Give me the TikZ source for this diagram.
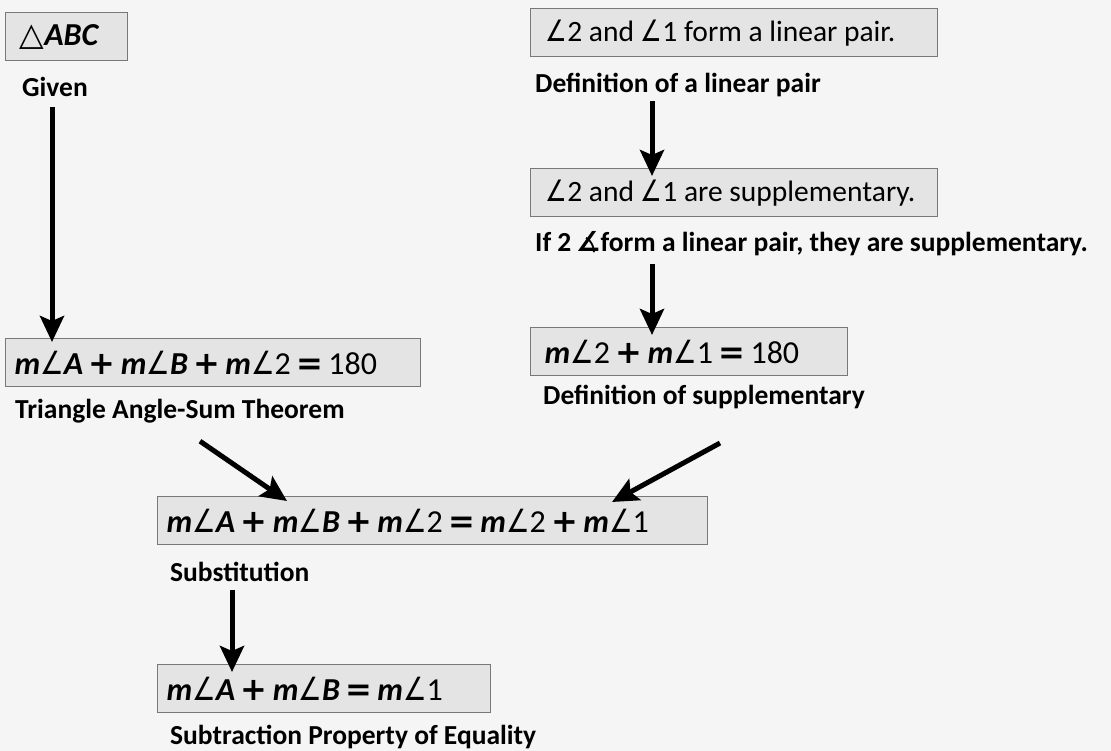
\documentclass[tikz,border=0pt]{standalone}
\usepackage{fontspec}
\usepackage{graphicx}
\setmainfont{Carlito}
\newfontfamily\symfont{DejaVu Sans}
\usetikzlibrary{arrows.meta,positioning}
\definecolor{paper}{RGB}{245,245,245}
\definecolor{boxfill}{RGB}{228,228,228}
\definecolor{boxline}{RGB}{120,120,120}
\newcommand{\ang}{\scalebox{0.82}[1]{\symfont\char"2220}}
\newcommand{\angs}{{\symfont\bfseries\char"2221}}
\newcommand{\tri}{{\symfont\char"25B3}}
\newcommand{\mv}[1]{\textit{\textbf{#1}}}
\newcommand{\pl}{\,{\symfont\bfseries +}\,}
\newcommand{\eq}{\,{\symfont\bfseries =}\,}

\begin{document}
\begin{tikzpicture}[x=1pt,y=-1pt,
    stmt/.style={draw=boxline,fill=boxfill,line width=1.3pt,anchor=north west,
      align=flush left,inner xsep=9pt,inner ysep=0pt,minimum height=48pt,
      font=\fontsize{32}{34}\selectfont},
    wordy/.style={inner xsep=15pt,font=\fontsize{29.5}{32}\selectfont},
    reason/.style={anchor=west,inner sep=0pt,font=\bfseries\fontsize{27.5}{30}\selectfont},
    flow/.style={line width=5pt,-{Stealth[length=26pt,width=24pt,inset=5pt]}}]
  \fill[paper] (0,0) rectangle (1111,751);
  \useasboundingbox (0,0) rectangle (1111,751);

  % left column
  \node[stmt,inner xsep=14pt,text width=94pt] (abc) at (5,12) {\mbox{\tri\mv{ABC}}};
  \node[reason] (given) at (22,87) {Given};
  \node[stmt,text width=397pt] (angsum) at (5,338)
    {\mbox{\mv{m}\ang\mv{A}\pl\mv{m}\ang\mv{B}\pl\mv{m}\ang2\eq180}};
  \node[reason] (tast) at (15,411) {Triangle Angle-Sum Theorem};

  % right column
  \node[stmt,wordy,text width=377pt] (lin) at (530,8) {\mbox{\ang2 and \ang1 form a linear pair.}};
  \node[reason] (deflin) at (535,85) {Definition of a linear pair};
  \node[stmt,wordy,text width=377pt] (supp) at (530,168) {\mbox{\ang2 and \ang1 are supplementary.}};
  \node[reason] (ifsupp) at (535,244) {If 2\,\angs form a linear pair, they are supplementary.};
  \node[stmt,inner xsep=14pt,text width=289pt] (sum) at (530,327) {\mbox{\mv{m}\ang2\pl\mv{m}\ang1\eq180}};
  \node[reason] (defsupp) at (543,397) {Definition of supplementary};

  % bottom
  \node[stmt,text width=532pt] (subst) at (157,496)
    {\mbox{\mv{m}\ang\mv{A}\pl\mv{m}\ang\mv{B}\pl\mv{m}\ang2\eq\mv{m}\ang2\pl\mv{m}\ang1}};
  \node[reason] (substr) at (170,572) {Substitution};
  \node[stmt,text width=315pt] (diff) at (157,664)
    {\mbox{\mv{m}\ang\mv{A}\pl\mv{m}\ang\mv{B}\eq\mv{m}\ang1}};
  \node[reason] (subprop) at (170,737) {Subtraction Property of Equality};

  % arrows
  \draw[flow] ([xshift=30pt,yshift=-10pt]given.south west) -- ([xshift=47pt,yshift=-4pt]angsum.north west);
  \draw[flow] ([xshift=117pt,yshift=-4pt]deflin.south west) -- ([xshift=122pt,yshift=-8pt]supp.north west);
  \draw[flow] ([xshift=117pt,yshift=-8pt]ifsupp.south west) -- ([xshift=122pt,yshift=-8pt]sum.north west);
  \draw[flow] ([xshift=185pt,yshift=-18pt]tast.south west) -- ([xshift=130pt,yshift=-5pt]subst.north west);
  \draw[flow] ([xshift=177pt,yshift=-34pt]defsupp.south west) -- ([xshift=455pt,yshift=-6pt]subst.north west);
  \draw[flow] ([xshift=62pt,yshift=-8pt]substr.south west) -- ([xshift=75pt,yshift=-8pt]diff.north west);
\end{tikzpicture}
\end{document}
